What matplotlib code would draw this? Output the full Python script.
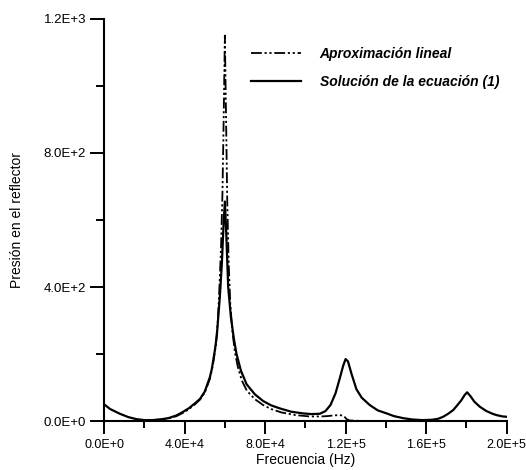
import matplotlib.pyplot as plt
from matplotlib.ticker import MultipleLocator

plt.rcParams['font.family'] = ['Liberation Sans', 'DejaVu Sans']

# Solución de la ecuación (1): frecuencia (Hz) vs presión
freq_sol = [0, 3000, 7800, 12000, 16000, 20000, 24000, 28000, 32000, 36000,
            39300, 42000, 45100, 47600, 50000, 52500, 53500, 55000, 56000,
            57500, 58500, 59300, 60000, 60700, 61650, 63000, 64500, 65800,
            68000, 70800, 74900, 79000, 83000, 87300, 93000, 98900, 103000,
            107200, 110000, 112500, 115000, 117000, 118800, 120000, 121200,
            123000, 125400, 128000, 132000, 136000, 140400, 144000, 148500,
            153000, 158000, 163000, 166000, 168500, 171000, 173500, 175200,
            177500, 179200, 180400, 182000, 184000, 186700, 190000, 193000,
            195000, 198000, 200000]
p_sol = [50, 36, 22, 12, 6, 3, 3, 5, 9, 17,
         28, 38, 53, 66, 88, 130, 155, 210, 255,
         370, 470, 580, 655, 560, 400, 310, 245, 200,
         150, 110, 80, 60, 47, 38, 28, 23, 21,
         22, 30, 48, 83, 125, 165, 185, 178,
         140, 95, 70, 48, 32, 23, 15, 9,
         5, 3, 4, 7, 13, 22, 33, 45,
         62, 78, 86, 75, 58, 43, 30, 22,
         18, 14, 13]

# Aproximación lineal
freq_lin = [0, 5000, 10000, 15000, 20000, 24000, 28000, 32000, 36000, 39300,
            42000, 45100, 47600, 50000, 52500, 54000, 55500, 56500, 57300,
            58100, 58800, 59400, 60000, 60600, 61200, 61900, 62700, 63700,
            65000, 66500, 68500, 71000, 75000, 79000, 83000, 88000, 95000,
            102000, 108000, 111000, 114000, 117000, 119000, 120500, 122000,
            126000, 135000, 150000, 170000, 200000]
p_lin = [0, 0, 0, 1, 2, 3, 5, 8, 15, 25,
         35, 50, 64, 85, 125, 165, 225, 300, 400,
         520, 680, 900, 1150, 900, 650, 470, 350, 270,
         205, 160, 120, 90, 65, 48, 36, 26, 18,
         14, 14, 15, 17, 18, 16, 6, 2,
         1, 0, 0, 0, 0]

x_ticks = [0, 4e4, 8e4, 1.2e5, 1.6e5, 2.0e5]
x_tick_labels = ['0.0E+0', '4.0E+4', '8.0E+4', '1.2E+5', '1.6E+5', '2.0E+5']
y_ticks = [0, 400, 800, 1200]
y_tick_labels = ['0.0E+0', '4.0E+2', '8.0E+2', '1.2E+3']

fig = plt.figure(figsize=(5.26, 4.70), dpi=100)
ax = fig.add_axes([0.198, 0.104, 0.765, 0.856])

ax.plot(freq_lin, p_lin, color='black', lw=1.3,
        dashes=(6, 1.5, 1.2, 1.5, 1.2, 1.5), label='Aproximación lineal')
ax.plot(freq_sol, p_sol, color='black', lw=1.6,
        label='Solución de la ecuación (1)')

ax.set_xlim(0, 2.0e5)
ax.set_ylim(0, 1200)
ax.set_xticks(x_ticks)
ax.set_xticklabels(x_tick_labels)
ax.set_yticks(y_ticks)
ax.set_yticklabels(y_tick_labels)
ax.xaxis.set_minor_locator(MultipleLocator(2e4))
ax.yaxis.set_minor_locator(MultipleLocator(200))

for side in ['top', 'right']:
    ax.spines[side].set_visible(False)
for side in ['left', 'bottom']:
    ax.spines[side].set_linewidth(1.5)
    ax.spines[side].set_clip_on(False)

ax.tick_params(axis='y', which='major', direction='out', length=10, width=1.4,
               labelsize=9.5, pad=3)
ax.tick_params(axis='y', which='minor', direction='out', length=6, width=1.4)
ax.tick_params(axis='x', which='major', direction='out', length=9, width=1.4,
               labelsize=9, pad=4)
ax.tick_params(axis='x', which='minor', direction='out', length=5, width=1.4)

ax.set_xlabel('Frecuencia (Hz)', fontsize=10, labelpad=1)
ax.set_ylabel('Presión en el reflector', fontsize=10, labelpad=14)

ax.legend(loc='upper left', bbox_to_anchor=(0.335, 0.962), frameon=False,
          handlelength=3.6, handletextpad=1.3, labelspacing=1.05,
          prop={'style': 'italic', 'weight': 'bold', 'size': 10})

fig.savefig('out.png', dpi=100)
